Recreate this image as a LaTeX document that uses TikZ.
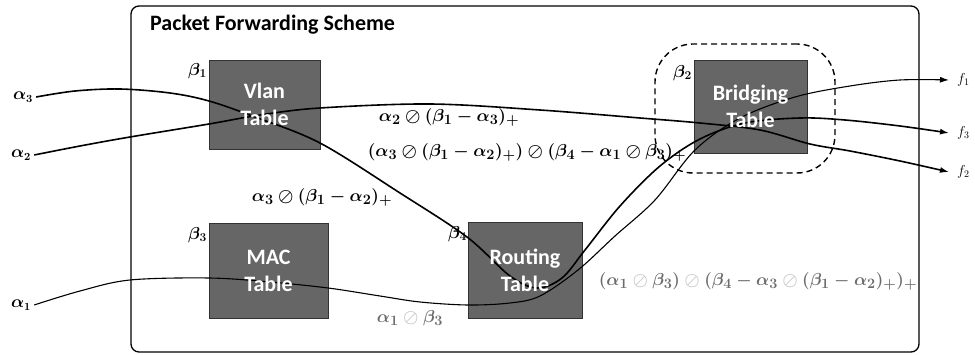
\documentclass[tikz,border=0pt]{standalone}
\usepackage{fontspec}
\setmainfont{Carlito}
\usetikzlibrary{arrows.meta}
\newcommand{\lightos}{\mathbin{\textcolor{black!22}{\oslash}}}
\begin{document}
\begin{tikzpicture}[x=1pt,y=-1pt,
  tbl/.style={draw=black!80, line width=0.8pt, fill=black!60, inner sep=0pt},
  tbltxt/.style={text=white, font=\fontsize{22}{27}\selectfont\bfseries, align=center, inner sep=0pt},
  flow/.style={line width=1.6pt, line join=round},
  thinflow/.style={line width=1.1pt, line join=round},
  tip/.style={-{Latex[length=9pt,width=6pt]}},
  mlab/.style={font=\fontsize{19}{22}\selectfont\boldmath, inner sep=0pt},
  glab/.style={mlab, text=black!58},
  blab/.style={font=\fontsize{18}{20}\selectfont\boldmath, inner sep=0pt, anchor=east},
  inlab/.style={font=\fontsize{16}{20}\selectfont\boldmath, inner sep=3pt},
  outlab/.style={font=\fontsize{14}{16}\selectfont, inner sep=0pt, anchor=west, xshift=8pt},
  ]
\useasboundingbox (0,0) rectangle (975,355);
% frame
\node[draw, line width=1.3pt, rounded corners=8pt, minimum width=788pt, minimum height=346pt, inner sep=0pt] (frame) at (525,179) {};
\node[anchor=base west, font=\fontsize{22}{26}\selectfont\bfseries, inner sep=0pt] (title) at (150,31) {Packet Forwarding Scheme};
% dashed group
\node[draw, line width=1.4pt, dash pattern=on 6pt off 4pt, rounded corners=38pt, minimum width=180pt, minimum height=129pt, inner sep=0pt] (grp) at (745,108.5) {};
% tables
\node[tbl, minimum width=111pt, minimum height=89pt] (vlan) at (264.5,104.5) {};
\node[tbl, minimum width=119pt, minimum height=95pt] (mac) at (268.5,270.5) {};
\node[tbl, minimum width=114pt, minimum height=96pt] (rout) at (525,270) {};
\node[tbl, minimum width=113pt, minimum height=93pt] (brid) at (750.5,106.5) {};
% beta labels
\node[blab] (b1) at (207,71) {$\beta_1$};
\node[blab] (b3) at (207,235) {$\beta_3$};
\node[blab] (b4) at (467,234) {$\beta_4$};
\node[blab] (b2) at (692,73) {$\beta_2$};
% inputs and outputs
\node[inlab] (a3) at (23,97) {$\alpha_3$};
\node[inlab] (a2) at (21,155) {$\alpha_2$};
\node[inlab] (a1) at (21,305) {$\alpha_1$};
\coordinate (o1) at (949,80);
\coordinate (o3) at (949,133);
\coordinate (o2) at (949,172);
\node[outlab] (f1) at (o1) {$f_1$};
\node[outlab] (f3) at (o3) {$f_3$};
\node[outlab] (f2) at (o2) {$f_2$};
% flows
\draw[flow,tip] plot[smooth, tension=0.55] coordinates {(a3.east) (75,91) (120,89) (170,93) (209,101) (255,117) (320,143) (400,193) (467,237) (510,276) (537,288) (562,278) (585,250) (620,206) (660,166) (700,139) (745,123) (800,118) (845,120) (900,126) (o3)};
\draw[flow,tip] plot[smooth, tension=0.55] coordinates {(a2.east) (80,146) (130,137) (209,124) (260,115) (320,108) (430,104) (540,110) (640,118) (700,123) (760,130) (810,144) (850,151) (900,161) (o2)};
\draw[thinflow,tip] plot[smooth, tension=0.55] coordinates {(a1.east) (80,291) (130,280) (209,278) (270,282) (328,288) (380,296) (420,302) (468,305) (510,303) (540,296) (578,270) (615,236) (655,200) (695,150) (740,118) (795,97) (850,86) (900,80) (o1)};
% table texts
\node[tbltxt] (vlant) at (vlan.center) {Vlan\\Table};
\node[tbltxt] (mact) at (mac.center) {MAC\\Table};
\node[tbltxt] (routt) at (rout.center) {Routing\\Table};
\node[tbltxt] (bridt) at (brid.center) {Bridging\\Table};
% flow labels
\node[mlab] (l1) at (449,117) {$\alpha_2 \oslash (\beta_1-\alpha_3)_+$};
\node[mlab] (l2) at (527,152) {$(\alpha_3 \oslash (\beta_1-\alpha_2)_+) \oslash (\beta_4-\alpha_1\oslash\beta_3)_+$};
\node[mlab] (l3) at (322,197) {$\alpha_3 \oslash (\beta_1-\alpha_2)_+$};
\node[glab] (l4) at (410,318) {$\alpha_1 \lightos \beta_3$};
\node[glab] (l5) at (758,281) {$(\alpha_1\lightos\beta_3)\lightos(\beta_4-\alpha_3\lightos(\beta_1-\alpha_2)_+)_+$};
\end{tikzpicture}
\end{document}
